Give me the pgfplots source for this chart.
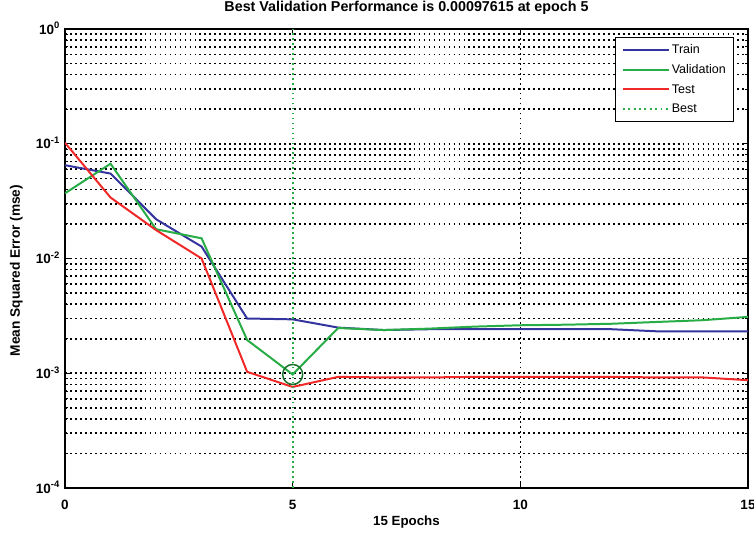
\documentclass[border=0pt]{standalone}
\usepackage{pgfplots}
\pgfplotsset{compat=1.18}
\usepackage{fontspec}
\setmainfont{Liberation Sans}
\definecolor{mblue}{RGB}{52,52,158}
\definecolor{mgreen}{RGB}{40,172,70}
\definecolor{mred}{RGB}{240,40,40}
\definecolor{dkgreen}{RGB}{25,115,45}
\begin{document}
\begin{tikzpicture}
\begin{axis}[
  scale only axis, width=683bp, height=459bp,
  ymode=log, xmin=0, xmax=15, ymin=1e-4, ymax=1,
  xtick={0,5,10,15},
  ytick={1e-4,1e-3,1e-2,1e-1,1},
  yticklabels={10\textsuperscript{-4},10\textsuperscript{-3},10\textsuperscript{-2},10\textsuperscript{-1},10\textsuperscript{0}},
  /pgf/number format/assume math mode=true,
  ymajorgrids, yminorgrids,
  extra x ticks={10}, extra x tick labels={},
  extra x tick style={grid=major},
  major grid style={black, line width=1.6pt, dash pattern=on 1.8pt off 3.2pt},
  minor grid style={black, line width=1.6pt, dash pattern=on 1.8pt off 3.2pt},
  axis line style={black, line width=1.1pt},
  tick style={black, line width=1pt},
  major tick length=6bp, minor tick length=3.5bp,
  tick label style={font=\fontsize{13.5bp}{15bp}\selectfont\bfseries},
  xticklabel style={inner sep=0pt, yshift=-12bp},
  yticklabel style={inner sep=0pt, anchor=base east, xshift=-5bp, yshift=-5bp},
  title={Best Validation Performance is 0.00097615 at epoch 5},
  title style={font=\fontsize{14.3bp}{16bp}\selectfont\bfseries, at={(0.5,1)}, anchor=south, inner sep=0pt, yshift=8bp},
  xlabel={15 Epochs},
  xlabel style={font=\fontsize{13.3bp}{15bp}\selectfont\bfseries, at={(0.5,0)}, anchor=north, inner sep=0pt, yshift=-28bp},
  ylabel={Mean Squared Error  (mse)},
  ylabel style={font=\fontsize{13.7bp}{15bp}\selectfont\bfseries, at={(0,0.5)}, anchor=south, inner sep=0pt, yshift=42bp, xshift=-12bp},
  legend style={at={(0.98,0.983)}, anchor=north east, draw=black, line width=1.1pt,
    font=\fontsize{12.5bp}{14bp}\selectfont, fill=white, inner xsep=6bp, inner ysep=5bp,
    row sep=5.5bp, cells={anchor=west}},
  legend image code/.code={\draw[#1] (0bp,0bp) -- (46bp,0bp);},
]
\addplot[draw=mblue, line width=2pt] coordinates {
(0,0.065) (1,0.055) (2,0.022) (3,0.0127) (4,0.0030) (5,0.00295) (6,0.0025)
(7,0.00238) (8,0.00242) (9,0.00242) (10,0.00242) (11,0.00242) (12,0.00242)
(13,0.00232) (14,0.00232) (15,0.00232)};
\addlegendentry{Train}
\addplot[draw=mgreen, line width=2pt] coordinates {
(0,0.037) (1,0.067) (2,0.018) (3,0.015) (4,0.00195) (5,0.00097615) (6,0.00248)
(7,0.00238) (8,0.00245) (9,0.00255) (10,0.00262) (11,0.00265) (12,0.0027)
(13,0.0028) (14,0.0029) (15,0.0031)};
\addlegendentry{Validation}
\addplot[draw=mred, line width=2pt] coordinates {
(0,0.102) (1,0.034) (2,0.0177) (3,0.0100) (4,0.00103) (5,0.00076) (6,0.00093)
(7,0.00092) (8,0.00092) (9,0.00093) (10,0.00093) (11,0.00093) (12,0.00093)
(13,0.00092) (14,0.00092) (15,0.00087)};
\addlegendentry{Test}
\addplot[draw=mgreen, line width=1.8pt, dash pattern=on 1.8pt off 3.2pt,
  legend image code/.code={\draw[draw=mgreen, line width=1.8pt, dash pattern=on 2pt off 3.4pt] (0bp,0bp) -- (46bp,0bp);}]
  coordinates {(5,1e-4) (5,1)};
\addlegendentry{Best}
\addplot[draw=dkgreen, only marks, mark=o, mark size=10bp, line width=1.5pt, forget plot] coordinates {(5,0.00097615)};
\end{axis}
\pgfresetboundingbox
\path[use as bounding box] ([shift={(-65bp,-47bp)}]current axis.south west) rectangle ([shift={(6bp,29bp)}]current axis.north east);
\end{tikzpicture}
\end{document}
